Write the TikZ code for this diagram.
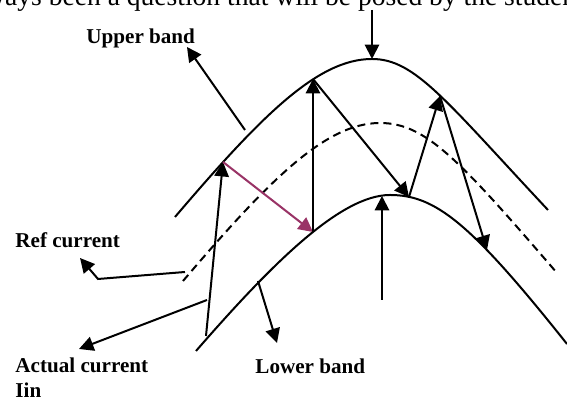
\documentclass[tikz,border=0pt]{standalone}
\usepackage{fontspec}
\setmainfont{Liberation Serif}
\usetikzlibrary{arrows.meta}
\definecolor{hopplum}{HTML}{993366}

\begin{document}
\begin{tikzpicture}[
    x=0.45pt, y=-0.45pt, >={Triangle[length=6.5pt, width=6.5pt]},
    bandline/.style={line width=0.9pt},
    hop/.style={->, line width=0.9pt},
    tag/.style={anchor=base west, inner sep=0pt,
                font=\fontsize{9.5}{11.3}\selectfont\bfseries}
  ]
  \path[use as bounding box] (0,0) rectangle (567,401);
  \clip (0,0) rectangle (567,401);

  % line of the page above the figure
  \node[anchor=base west, inner sep=0pt, font=\fontsize{12.4}{14}\selectfont]
    (pagetext) at (-35,6) {always been a question that will be posed by the students};

  % the three bands
  \draw[bandline] (175,217) .. controls (262,115) and (318,59) .. (372,59)
    .. controls (415,59) and (445,100) .. (548,210);
  \draw[bandline, dash pattern=on 3.6pt off 2.3pt] (183,281)
    .. controls (270,179) and (326,123) .. (380,123)
    .. controls (425,123) and (458,158) .. (557,273);
  \draw[bandline] (196,351) .. controls (270,266) and (340,195) .. (390,195)
    .. controls (435,195) and (470,222) .. (567,344);

  % points where the current touches the bands
  \coordinate (pa) at (223,162);
  \coordinate (pb) at (313,232);
  \coordinate (pc) at (313,79);
  \coordinate (pd) at (409,197);
  \coordinate (pe) at (440,96);
  \coordinate (pf) at (487,250);
  \coordinate (upeak) at (372,59);
  \coordinate (lpeak) at (382,196);

  % labels
  \node[tag] (upper) at (86,44) {Upper band};
  \node[tag] (refcur) at (15,248) {Ref current};
  \node[tag, align=left] (actual) at (15,398) {Actual current\\Iin};
  \node[tag] (lower) at (255,374) {Lower band};

  % actual current
  \coordinate (start) at (206,336);
  \draw[hop] (start) -- (pa);
  \draw[hop, hopplum] (pa) -- (pb);
  \draw[hop] (pb) -- (pc);
  \draw[hop] (pc) -- (pd);
  \draw[hop] (pd) -- (pe);
  \draw[hop] (pe) -- (pf);

  % peak markers
  \coordinate (topend) at (372,10);
  \draw[hop] (topend) -- (upeak);
  \coordinate (botend) at (382,300);
  \draw[hop] (botend) -- (lpeak);

  % pointers to the labels
  \coordinate (uptail) at (245,130);
  \coordinate (uptip) at (187,47);
  \draw[hop] (uptail) -- (uptip);
  \coordinate (reftail) at (185,272);
  \coordinate (refbend) at (98,279);
  \coordinate (reftip) at (80,258);
  \draw[hop] (reftail) -- (refbend) -- (reftip);
  \coordinate (acttail) at (207,300);
  \coordinate (acttip) at (79,349);
  \draw[hop] (acttail) -- (acttip);
  \coordinate (lowtail) at (258,281);
  \coordinate (lowtip) at (277,343);
  \draw[hop] (lowtail) -- (lowtip);
\end{tikzpicture}
\end{document}
